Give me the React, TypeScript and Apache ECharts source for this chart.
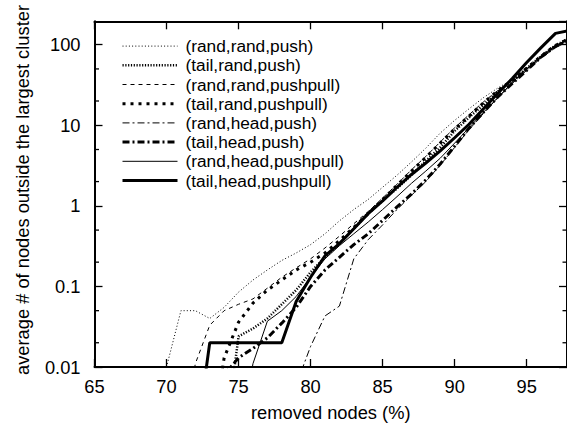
import React, { useEffect, useRef } from "react";
import * as echarts from "echarts";

// x positions (% removed nodes)
const X = [70, 71, 72, 73, 74, 75, 76, 77, 78, 79, 80, 81, 82, 83, 84, 85, 86, 87, 88, 89, 90, 91, 92, 93, 94, 95, 96, 97, 98];

const NAMES = [
  "(rand,rand,push)",
  "(tail,rand,push)",
  "(rand,rand,pushpull)",
  "(tail,rand,pushpull)",
  "(rand,head,push)",
  "(tail,head,push)",
  "(rand,head,pushpull)",
  "(tail,head,pushpull)",
];

const N = null;
const RAND_RAND_PUSH = [0.01, 0.05, 0.05, 0.04, 0.055, 0.085, 0.12, 0.16, 0.21, 0.26, 0.33, 0.45, 0.65, 0.9, 1.2, 1.7, 2.4, 3.5, 5.2, 8, 11.5, 16, 22, 29, 37, 50, 70, 96, 118];
const TAIL_RAND_PUSH = [N, N, N, N, 0.001, 0.024, 0.03, 0.04, 0.06, 0.09, 0.15, 0.23, 0.34, 0.52, 0.82, 1.15, 1.65, 2.4, 3.6, 5.3, 8.5, 12.5, 18, 26, 36, 51, 72, 98, 122];
const RAND_RAND_PUSHPULL = [N, 0.001, 0.011, 0.033, 0.05, 0.06, 0.07, 0.095, 0.13, 0.17, 0.22, 0.3, 0.42, 0.6, 0.85, 1.25, 1.85, 2.8, 4.1, 6.2, 9.3, 13.5, 19.5, 27, 36, 50, 70, 95, 115];
const TAIL_RAND_PUSHPULL = [N, N, N, 0.001, 0.013, 0.036, 0.062, 0.09, 0.12, 0.16, 0.2, 0.26, 0.37, 0.54, 0.8, 1.2, 1.8, 2.7, 4.0, 6.0, 9, 13, 19, 27, 36, 51, 72, 98, 120];
const RAND_HEAD_PUSH = [N, N, N, N, N, N, N, N, N, 0.006, 0.018, 0.043, 0.057, 0.22, 0.38, 0.58, 0.9, 1.35, 2.0, 3.2, 5.3, 8.8, 14, 22, 33, 48, 68, 92, 112];
const TAIL_HEAD_PUSH = [N, N, N, N, 0.008, 0.013, 0.017, 0.023, 0.035, 0.055, 0.1, 0.16, 0.23, 0.33, 0.45, 0.66, 0.97, 1.4, 2.1, 3.3, 5.5, 9.2, 14.5, 22.5, 33, 48, 70, 95, 115];
const RAND_HEAD_PUSHPULL = [N, N, N, N, N, 0.001, 0.011, 0.037, 0.05, 0.075, 0.13, 0.22, 0.32, 0.45, 0.63, 0.9, 1.3, 1.9, 2.7, 3.9, 6, 9.3, 14.5, 22, 34, 50, 72, 98, 118];
const TAIL_HEAD_PUSHPULL = [N, N, 0.001, 0.02, 0.02, 0.02, 0.02, 0.02, 0.02, 0.065, 0.13, 0.24, 0.34, 0.52, 0.8, 1.15, 1.7, 2.45, 3.4, 4.8, 7, 10.3, 16, 25, 38, 60, 92, 138, 150];

const SERIES_VALUES = [
  RAND_RAND_PUSH,
  TAIL_RAND_PUSH,
  RAND_RAND_PUSHPULL,
  TAIL_RAND_PUSHPULL,
  RAND_HEAD_PUSH,
  TAIL_HEAD_PUSH,
  RAND_HEAD_PUSHPULL,
  TAIL_HEAD_PUSHPULL,
];

const MINOR_TICKS = [0.02, 0.05, 0.2, 0.5, 2, 5, 20, 50];

const X_MIN = 65;
const X_MAX = 97.8;
const Y_MIN = 0.01;
const Y_MAX = 195;

const FONT = "'Liberation Sans', Arial, Helvetica, sans-serif";
const FS = 18.3;
const LEGEND_FS = 17.3;

const LINE_STYLES: { width: number; type: any }[] = [
  { width: 1, type: [1, 2.2] },
  { width: 2.5, type: [1.2, 1.6] },
  { width: 1, type: [4, 4] },
  { width: 3, type: [3, 5] },
  { width: 1, type: [7, 3, 2, 3] },
  { width: 3, type: [7, 3, 2, 3] },
  { width: 1, type: "solid" },
  { width: 3, type: "solid" },
];

export default function App() {
  const ref = useRef<HTMLDivElement>(null);

  useEffect(() => {
    document.body.style.margin = "0";
    if (!ref.current) return;
    const chart = echarts.init(ref.current, undefined, { renderer: "svg" });

    const lineSeries = NAMES.map((name, si) => {
      const vals = SERIES_VALUES[si];
      const data: [number, number][] = [];
      X.forEach((x, i) => {
        const v = vals[i];
        if (v !== null && v !== undefined) data.push([x, v]);
      });
      return {
        type: "line",
        name,
        data,
        symbol: "none",
        showSymbol: false,
        clip: true,
        silent: true,
        xAxisIndex: 0,
        yAxisIndex: 0,
        lineStyle: {
          color: "#000",
          width: LINE_STYLES[si].width,
          type: LINE_STYLES[si].type,
        },
        itemStyle: { color: "#000" },
      };
    });

    const minorSeries = {
      type: "custom",
      silent: true,
      xAxisIndex: 0,
      yAxisIndex: 0,
      data: MINOR_TICKS.map((v) => [X_MIN, v]),
      renderItem: (_params: any, api: any) => {
        const v = api.value(1);
        const p1 = api.coord([X_MIN, v]);
        const p2 = api.coord([X_MAX, v]);
        return {
          type: "group",
          children: [
            {
              type: "line",
              shape: { x1: p1[0], y1: p1[1], x2: p1[0] + 4.5, y2: p1[1] },
              style: { stroke: "#000", lineWidth: 1.3 },
            },
            {
              type: "line",
              shape: { x1: p2[0] - 4.5, y1: p2[1], x2: p2[0], y2: p2[1] },
              style: { stroke: "#000", lineWidth: 1.3 },
            },
          ],
        };
      },
    };

    const axisLine = { show: true, lineStyle: { color: "#000", width: 2 } };
    const majorTick = { show: true, inside: true, length: 8, lineStyle: { color: "#000", width: 1.3 } };

    chart.setOption({
      animation: false,
      backgroundColor: "#fff",
      grid: { left: 94.5, top: 21.3, width: 475.5, height: 346.4, show: false },
      legend: {
        orient: "vertical",
        left: 116,
        top: 31.5,
        itemWidth: 55,
        itemHeight: 12,
        itemGap: 0,
        selectedMode: false,
        data: NAMES.map((name, i) => ({
          name,
          itemStyle: { color: "rgba(0,0,0,0)", borderWidth: 0, opacity: 0 },
          lineStyle: { color: "#000", width: LINE_STYLES[i].width, type: LINE_STYLES[i].type },
        })),
        textStyle: {
          fontSize: LEGEND_FS,
          fontFamily: FONT,
          color: "#000",
          lineHeight: 19.2,
          padding: [0, 0, 0, 3],
        },
      },
      xAxis: [
        {
          type: "value",
          min: X_MIN,
          max: X_MAX,
          interval: 5,
          position: "bottom",
          axisLine,
          axisTick: majorTick,
          splitLine: { show: false },
          axisLabel: {
            margin: 10,
            fontSize: FS,
            fontFamily: FONT,
            color: "#000",
            showMaxLabel: false,
          },
          name: "removed nodes (%)",
          nameLocation: "middle",
          nameGap: 36,
          nameTextStyle: { fontSize: FS, fontFamily: FONT, color: "#000" },
        },
        {
          type: "value",
          min: X_MIN,
          max: X_MAX,
          interval: 5,
          position: "top",
          axisLine,
          axisTick: majorTick,
          splitLine: { show: false },
          axisLabel: { show: false },
        },
      ],
      yAxis: [
        {
          type: "log",
          logBase: 10,
          min: Y_MIN,
          max: Y_MAX,
          position: "left",
          axisLine,
          axisTick: majorTick,
          splitLine: { show: false },
          axisLabel: {
            margin: 14,
            fontSize: FS,
            fontFamily: FONT,
            color: "#000",
            showMaxLabel: false,
          },
        },
        {
          type: "log",
          logBase: 10,
          min: Y_MIN,
          max: Y_MAX,
          position: "right",
          axisLine,
          axisTick: majorTick,
          splitLine: { show: false },
          axisLabel: { show: false },
        },
      ],
      graphic: [
        {
          type: "text",
          x: 22,
          y: 190,
          rotation: Math.PI / 2,
          style: {
            text: "average # of nodes outside the largest cluster",
            fontSize: FS,
            fontFamily: FONT,
            fill: "#000",
            align: "center",
            verticalAlign: "middle",
          },
        },
      ],
      series: [...lineSeries, minorSeries],
    });

    return () => {
      chart.dispose();
    };
  }, []);

  return <div ref={ref} style={{ width: 567, height: 426 }} />;
}
